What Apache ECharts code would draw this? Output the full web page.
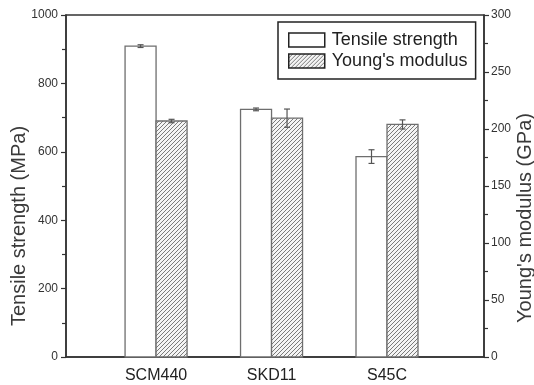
<!DOCTYPE html>
<html><head><meta charset="utf-8">
<script src="https://cdn.jsdelivr.net/npm/echarts@6/dist/echarts.min.js"></script>
<style>html,body{margin:0;padding:0;background:#fff}#c{width:534px;height:385px}</style>
</head><body><div id="c"></div>
<script>
const categories = ['SCM440', 'SKD11', 'S45C'];
const positions = [1, 2, 3];
const tensile = [909, 724, 586];
const tensileErr = [4, 4, 20];
const modulus = [207, 209.5, 204];
const modulusErr = [1.5, 8, 4];
const leftTicks = [0, 200, 400, 600, 800, 1000];
const rightTicks = [0, 50, 100, 150, 200, 250, 300];
const seriesNames = ['Tensile strength', "Young's modulus"];
const axisTitles = ['Tensile strength (MPa)', "Young's modulus (GPa)"];

function makeHatch() {
  const c = document.createElement('canvas');
  c.width = 4; c.height = 4;
  const g = c.getContext('2d');
  g.fillStyle = '#f4f4f4'; g.fillRect(0, 0, 4, 4);
  g.strokeStyle = '#7a7a7a'; g.lineWidth = 1;
  g.beginPath();
  g.moveTo(-1, 5); g.lineTo(5, -1);
  g.moveTo(-1, 1); g.lineTo(1, -1);
  g.moveTo(3, 5); g.lineTo(5, 3);
  g.stroke();
  return { image: c, repeat: 'repeat' };
}
const hatch = makeHatch();
const BW = 31;
const barStroke = '#6e6e6e';

function barRender(side, fill) {
  return function (params, api) {
    const x = api.value(0), v = api.value(1);
    const top = api.coord([x, v]);
    const base = api.coord([x, 0]);
    const x0 = side < 0 ? top[0] - BW : top[0];
    return { type: 'rect', shape: { x: x0, y: top[1], width: BW, height: base[1] - top[1] },
      style: { fill: fill, stroke: barStroke, lineWidth: 1.3 } };
  };
}
function errRender(side) {
  return function (params, api) {
    const x = api.value(0), lo = api.value(1), hi = api.value(2);
    const a = api.coord([x, hi]), b = api.coord([x, lo]);
    const cx = a[0] + side * BW / 2;
    const cap = 3;
    const st = { stroke: '#555', lineWidth: 1.2 };
    return { type: 'group', children: [
      { type: 'line', shape: { x1: cx, y1: a[1], x2: cx, y2: b[1] }, style: st },
      { type: 'line', shape: { x1: cx - cap, y1: a[1], x2: cx + cap, y2: a[1] }, style: st },
      { type: 'line', shape: { x1: cx - cap, y1: b[1], x2: cx + cap, y2: b[1] }, style: st }
    ] };
  };
}

const chart = echarts.init(document.getElementById('c'), null, { renderer: 'canvas' });
const axisColor = '#333';
const FONT = 'Liberation Sans, Arial, sans-serif';
chart.setOption({
  animation: false,
  backgroundColor: '#fff',
  textStyle: { fontFamily: FONT },
  grid: { left: 66, right: 50, top: 15, bottom: 28, show: true, borderColor: axisColor, borderWidth: 1.5, backgroundColor: 'transparent' },
  legend: {
    left: 278, top: 22, orient: 'vertical', icon: 'rect',
    itemWidth: 36, itemHeight: 14, itemGap: 3,
    padding: [9, 8, 9, 10],
    borderColor: '#222', borderWidth: 1.5,
    itemStyle: { borderColor: '#222', borderWidth: 1.5 },
    textStyle: { fontSize: 18, color: '#222', padding: [0, 0, 0, 2] },
    data: seriesNames
  },
  xAxis: {
    type: 'value', min: 0.22, max: 3.84,
    axisLine: { show: true, lineStyle: { color: axisColor, width: 1.5 } },
    axisTick: { show: false },
    splitLine: { show: false },
    axisLabel: { customValues: positions, margin: 11, fontSize: 16, color: '#222',
      formatter: function (v) { const i = positions.indexOf(v); return i >= 0 ? categories[i] : ''; } }
  },
  yAxis: [
    { type: 'value', position: 'left', min: leftTicks[0], max: leftTicks[leftTicks.length - 1], interval: 200,
      axisLine: { show: true, lineStyle: { color: axisColor, width: 1.5 } },
      axisTick: { show: true, inside: false, length: 5, lineStyle: { color: axisColor, width: 1.2 } },
      minorTick: { show: true, splitNumber: 2, length: 4, lineStyle: { color: axisColor, width: 1.2 } },
      splitLine: { show: false },
      axisLabel: { margin: 8, fontSize: 12, color: '#333', formatter: function (v) { return String(v); } } },
    { type: 'value', position: 'right', min: rightTicks[0], max: rightTicks[rightTicks.length - 1], interval: 50,
      axisLine: { show: true, lineStyle: { color: axisColor, width: 1.5 } },
      axisTick: { show: true, inside: false, length: 5, lineStyle: { color: axisColor, width: 1.2 } },
      minorTick: { show: true, splitNumber: 2, length: 4, lineStyle: { color: axisColor, width: 1.2 } },
      splitLine: { show: false },
      axisLabel: { margin: 7, fontSize: 12, color: '#333', formatter: function (v) { return String(v); } } }
  ],
  graphic: [
    { type: 'text', x: 19, y: 226, rotation: Math.PI / 2,
      style: { text: axisTitles[0], fontSize: 20, fontFamily: FONT, fill: '#3a3a3a', align: 'center', verticalAlign: 'middle' } },
    { type: 'text', x: 525, y: 218, rotation: Math.PI / 2,
      style: { text: axisTitles[1], fontSize: 20, fontFamily: FONT, fill: '#3a3a3a', align: 'center', verticalAlign: 'middle' } }
  ],
  series: [
    { name: seriesNames[0], type: 'custom', yAxisIndex: 0,
      itemStyle: { color: '#fff', borderColor: '#222', borderWidth: 1.5 },
      renderItem: barRender(-1, '#fff'),
      encode: { x: 0, y: 1 },
      data: positions.map((p, i) => [p, tensile[i]]) },
    { name: seriesNames[1], type: 'custom', yAxisIndex: 1,
      itemStyle: { color: hatch, borderColor: '#222', borderWidth: 1.5 },
      renderItem: barRender(1, hatch),
      encode: { x: 0, y: 1 },
      data: positions.map((p, i) => [p, modulus[i]]) },
    { name: 'tensileErr', type: 'custom', yAxisIndex: 0, z: 5,
      renderItem: errRender(-1), encode: { x: 0, y: [1, 2] },
      data: positions.map((p, i) => [p, tensile[i] - tensileErr[i], tensile[i] + tensileErr[i]]) },
    { name: 'modulusErr', type: 'custom', yAxisIndex: 1, z: 5,
      renderItem: errRender(1), encode: { x: 0, y: [1, 2] },
      data: positions.map((p, i) => [p, modulus[i] - modulusErr[i], modulus[i] + modulusErr[i]]) }
  ]
});
</script>
</body></html>
